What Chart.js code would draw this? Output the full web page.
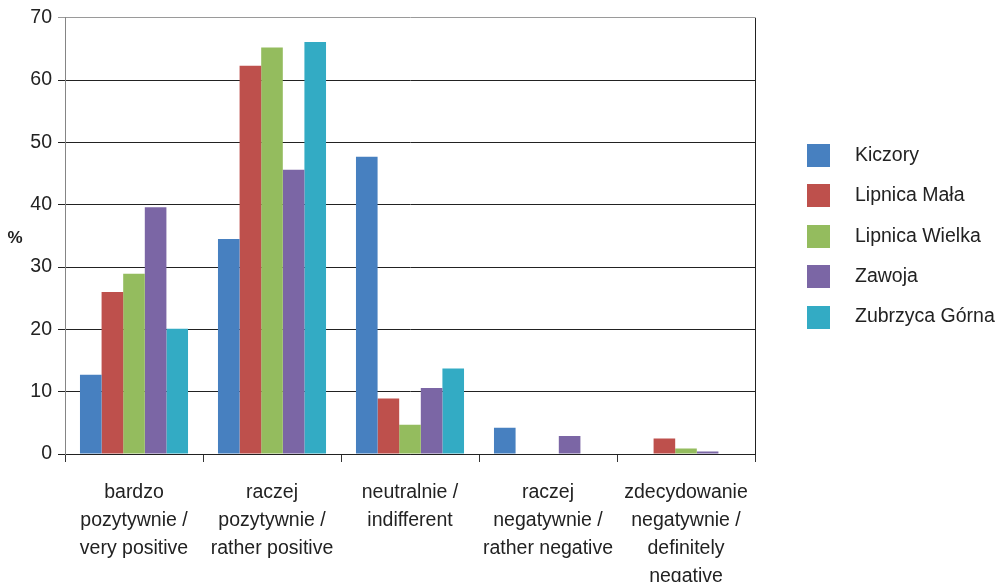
<!DOCTYPE html>
<html>
<head>
<meta charset="utf-8">
<script src="https://cdn.jsdelivr.net/npm/chart.js@4"></script>
<style>
  html, body { margin: 0; padding: 0; background: #ffffff; }
  #wrap { width: 1005px; height: 582px; }
</style>
</head>
<body>
<div id="wrap"><canvas id="c" width="1005" height="582"></canvas></div>
<script>
const categories = [
  ["bardzo", "pozytywnie /", "very positive"],
  ["raczej", "pozytywnie /", "rather positive"],
  ["neutralnie /", "indifferent"],
  ["raczej", "negatywnie /", "rather negative"],
  ["zdecydowanie", "negatywnie /", "definitely", "negative"]
];
const seriesNames = ["Kiczory", "Lipnica Mała", "Lipnica Wielka", "Zawoja", "Zubrzyca Górna"];
const kiczory       = [12.7, 34.5, 47.7, 4.2, 0];
const lipnicaMala   = [26.0, 62.3, 8.9, 0, 2.5];
const lipnicaWielka = [28.9, 65.2, 4.7, 0, 0.9];
const zawoja        = [39.6, 45.6, 10.6, 2.9, 0.4];
const zubrzyca      = [20.1, 66.1, 13.7, 0, 0];
const yTicks = [0, 10, 20, 30, 40, 50, 60, 70];
const yTitle = "%";

const colors = ["#4780c0", "#be504c", "#94bc5e", "#7b66a5", "#33abc4"];
const FONT = "'Liberation Sans', Arial, sans-serif";
const seriesValues = [kiczory, lipnicaMala, lipnicaWielka, zawoja, zubrzyca];

const extras = {
  id: 'extras',
  afterDraw(chart) {
    const ctx = chart.ctx;
    const a = chart.chartArea;
    ctx.save();
    // right border
    ctx.strokeStyle = '#222';
    ctx.lineWidth = 1;
    ctx.beginPath();
    ctx.moveTo(Math.round(a.right) + 0.5, a.top);
    ctx.lineTo(Math.round(a.right) + 0.5, a.bottom + 1);
    ctx.stroke();
    // y title
    ctx.fillStyle = '#222';
    ctx.font = "bold 17px " + FONT;
    ctx.textAlign = 'center';
    ctx.textBaseline = 'middle';
    ctx.fillText(yTitle, 15, 238);
    // legend
    ctx.font = "19.5px " + FONT;
    ctx.textAlign = 'left';
    chart.data.datasets.forEach((ds, i) => {
      const cy = 155.5 + i * 40.4;
      ctx.fillStyle = ds.backgroundColor;
      ctx.fillRect(807, Math.round(cy - 11.5), 23, 23);
      ctx.fillStyle = '#222';
      ctx.fillText(ds.label, 855, cy);
    });
    ctx.restore();
  }
};

new Chart(document.getElementById('c'), {
  type: 'bar',
  data: {
    labels: categories,
    datasets: seriesNames.map((n, i) => ({
      label: n,
      data: seriesValues[i],
      backgroundColor: colors[i],
      borderWidth: 0,
      categoryPercentage: 0.783,
      barPercentage: 1.0
    }))
  },
  options: {
    responsive: false,
    animation: false,
    devicePixelRatio: 1,
    layout: { padding: { left: 0, top: 17, right: 250, bottom: 0 } },
    plugins: {
      legend: { display: false },
      tooltip: { enabled: false }
    },
    scales: {
      x: {
        offset: true,
        grid: {
          offset: true,
          drawOnChartArea: false,
          drawTicks: true,
          tickLength: 8,
          color: '#333'
        },
        border: { color: '#222', width: 1 },
        ticks: {
          font: { family: FONT, size: 19.5, lineHeight: 1.436 },
          color: '#222',
          padding: 17,
          maxRotation: 0,
          autoSkip: false
        },
        afterFit(scale) { scale.height = 128; }
      },
      y: {
        min: 0,
        max: 70,
        afterBuildTicks(scale) { scale.ticks = yTicks.map(v => ({ value: v })); },
        grid: {
          color: (c) => (c.tick && c.tick.value === 70) ? '#9a9a9a' : '#222',
          lineWidth: 1,
          tickLength: 7,
          drawTicks: true
        },
        border: { color: '#858585', width: 1 },
        ticks: {
          font: { family: FONT, size: 19.5 },
          color: '#222',
          padding: 6
        },
        afterFit(scale) { scale.width = 65; }
      }
    }
  },
  plugins: [extras]
});
</script>
</body>
</html>
